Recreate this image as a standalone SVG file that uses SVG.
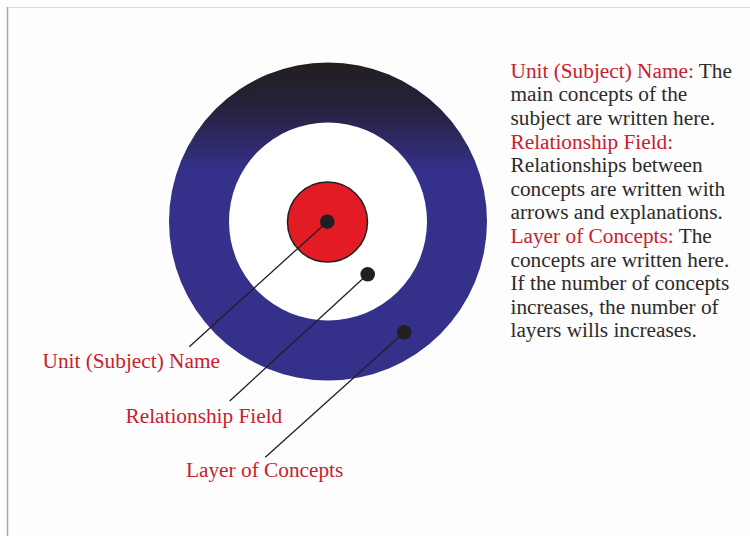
<svg xmlns="http://www.w3.org/2000/svg" width="750" height="536" viewBox="0 0 750 536">
<defs>
<linearGradient id="ring" x1="0" y1="0" x2="0" y2="1">
<stop offset="0" stop-color="#221e21"/>
<stop offset="0.14" stop-color="#26213c"/>
<stop offset="0.34" stop-color="#35308a"/>
<stop offset="1" stop-color="#35308a"/>
</linearGradient>
<style>
text{font-family:"Liberation Serif","Times New Roman",serif;font-size:21.3px}
.red{fill:#c8202f}
.dark{fill:#2b2b2b}
.lead{stroke:#231f20;stroke-width:1.3;fill:none}
.dot{fill:#231f20}
</style>
</defs>
<rect x="0" y="0" width="750" height="536" fill="#fdfdfd"/>
<line x1="7" y1="7.5" x2="750" y2="7.5" stroke="#dcdcdc" stroke-width="1"/>
<line x1="7.5" y1="7" x2="7.5" y2="536" stroke="#a8a8a8" stroke-width="1.5"/>
<g id="target">
<circle id="layer-of-concepts" cx="328" cy="221.5" r="159" fill="url(#ring)"/>
<circle id="relationship-field" cx="328" cy="221.5" r="99" fill="#ffffff"/>
<circle id="unit-name" cx="327.5" cy="222" r="40" fill="#e31b25" stroke="#231f20" stroke-width="1.5"/>
</g>
<g id="connectors">
<line class="lead" x1="327.3" y1="221.7" x2="189.3" y2="346.7"/>
<line class="lead" x1="367.7" y1="274.3" x2="229.7" y2="401"/>
<line class="lead" x1="404.3" y1="332.3" x2="265.3" y2="457.3"/>
<circle class="dot" cx="327.3" cy="221.7" r="7.3"/>
<circle class="dot" cx="367.7" cy="274.3" r="7.3"/>
<circle class="dot" cx="404.3" cy="332.3" r="7.3"/>
</g>
<g id="label-unit"><text class="red" x="42.5" y="368">Unit (Subject) Name</text></g>
<g id="label-relationship"><text class="red" x="125.5" y="422.5">Relationship Field</text></g>
<g id="label-layer"><text class="red" x="186" y="477">Layer of Concepts</text></g>
<g id="description">
<text x="510.5" y="77.7"><tspan class="red">Unit (Subject) Name:</tspan><tspan class="dark"> The</tspan></text>
<text class="dark" x="510.5" y="101.3">main concepts of the</text>
<text class="dark" x="510.5" y="124.9">subject are written here.</text>
<text class="red" x="510.5" y="148.5">Relationship Field:</text>
<text class="dark" x="510.5" y="172.1">Relationships between</text>
<text class="dark" x="510.5" y="195.7">concepts are written with</text>
<text class="dark" x="510.5" y="219.3">arrows and explanations.</text>
<text x="510.5" y="242.9"><tspan class="red">Layer of Concepts:</tspan><tspan class="dark"> The</tspan></text>
<text class="dark" x="510.5" y="266.5">concepts are written here.</text>
<text class="dark" x="510.5" y="290.1">If the number of concepts</text>
<text class="dark" x="510.5" y="313.7">increases, the number of</text>
<text class="dark" x="510.5" y="337.3">layers wills increases.</text>
</g>
</svg>
